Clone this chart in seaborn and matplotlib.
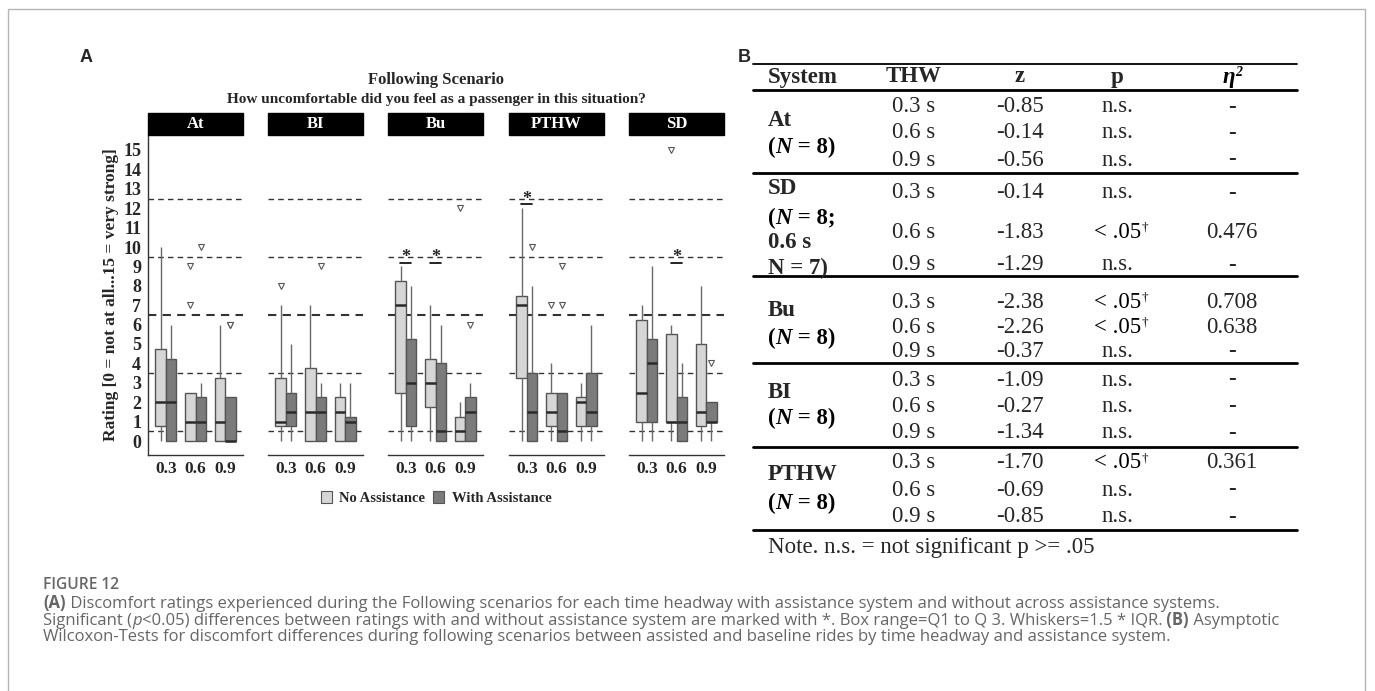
import numpy as np
import pandas as pd
import matplotlib
matplotlib.use("Agg")
import matplotlib.pyplot as plt
import seaborn as sns
from matplotlib.patches import Patch, Rectangle
from matplotlib.lines import Line2D
from matplotlib.offsetbox import TextArea, HPacker, AnnotationBbox

# ---------------- data (panel A: discomfort ratings, one list per THW 0.3/0.6/0.9) ----------------
systems = ["At", "BI", "Bu", "PTHW", "SD"]
thw_levels = ["0.3", "0.6", "0.9"]
conditions = ["No Assistance", "With Assistance"]

at_no = [[0, 0, 1, 2, 2, 4, 7, 10], [0, 0, 0, 1, 1, 1, 7, 9], [0, 0, 0, 1, 1, 3, 4, 6]]
at_with = [[0, 0, 0, 2, 2, 4, 5, 6], [0, 0, 0, 1, 1, 2, 3, 10], [0, 0, 0, 0, 0, 1, 6, 6]]
bi_no = [[0, 0, 1, 1, 1, 2, 7, 8], [0, 0, 0, 1, 2, 3, 6, 7], [0, 0, 0, 1, 2, 2, 3, 3]]
bi_with = [[0, 0, 1, 1, 2, 2, 4, 5], [0, 0, 0, 1, 2, 2, 3, 9], [0, 0, 0, 1, 1, 1, 2, 3]]
bu_no = [[0, 1, 3, 7, 7, 8, 9, 9], [0, 1, 2, 3, 3, 4, 5, 7], [0, 0, 0, 0, 1, 1, 2, 12]]
bu_with = [[0, 0, 1, 3, 3, 5, 6, 8], [0, 0, 0, 0, 1, 4, 4, 6], [0, 0, 0, 1, 2, 2, 3, 6]]
pthw_no = [[0, 1, 4, 7, 7, 7, 9, 12], [0, 0, 1, 1, 2, 2, 4, 7], [0, 0, 1, 2, 2, 2, 3, 3]]
pthw_with = [[0, 0, 0, 1, 2, 2, 8, 10], [0, 0, 0, 0, 1, 1, 7, 9], [0, 0, 1, 1, 2, 3, 5, 6]]
sd_no = [[0, 1, 1, 2, 3, 6, 7, 7], [0, 1, 1, 1, 5, 6, 15], [0, 0, 1, 1, 2, 5, 5, 8]]
sd_with = [[0, 1, 1, 4, 4, 5, 6, 9], [0, 0, 0, 1, 1, 2, 3, 4], [0, 1, 1, 1, 1, 2, 2, 4]]

category_bounds = [0.5, 3.5, 6.5, 9.5, 12.5]
# significant pairs: (system, THW, reference line the star sits on)
sig_system = ["Bu", "Bu", "PTHW", "SD"]
sig_thw = ["0.3", "0.6", "0.3", "0.6"]
sig_level = [9.5, 9.5, 12.5, 9.5]

# ---------------- data (panel B: Wilcoxon table) ----------------
tbl_systems = ["At", "SD", "Bu", "BI", "PTHW"]
tbl_thw = ["0.3 s", "0.6 s", "0.9 s"]
tbl_z = [["-0.85", "-0.14", "-0.56"], ["-0.14", "-1.83", "-1.29"], ["-2.38", "-2.26", "-0.37"],
         ["-1.09", "-0.27", "-1.34"], ["-1.70", "-0.69", "-0.85"]]
tbl_sig = [[False, False, False], [False, True, False], [True, True, False],
           [False, False, False], [True, False, False]]
tbl_eta = [["-", "-", "-"], ["-", "0.476", "-"], ["0.708", "0.638", "-"],
           ["-", "-", "-"], ["0.361", "-", "-"]]

# ---------------- build long data frame ----------------
raw = {"At": (at_no, at_with), "BI": (bi_no, bi_with), "Bu": (bu_no, bu_with),
       "PTHW": (pthw_no, pthw_with), "SD": (sd_no, sd_with)}
rows = []
for s in systems:
    for ci, cond in enumerate(conditions):
        for ti, thw in enumerate(thw_levels):
            for v in raw[s][ci][ti]:
                rows.append((s, thw, cond, v))
df = pd.DataFrame(rows, columns=["system", "thw", "condition", "rating"])

# ---------------- figure ----------------
sns.set_style("white")
plt.rcParams["font.family"] = ["Liberation Serif", "DejaVu Serif"]

W, H = 1375, 691
fig = plt.figure(figsize=(W / 100, H / 100), dpi=100)


def fx(px):
    return px / W


def fy(py):
    return 1 - py / H


SERIF = ["Liberation Serif", "DejaVu Serif"]
SANS = ["Open Sans", "DejaVu Sans"]

facet_left = [148, 268, 388, 509, 629]
facet_w = 95
ax_top, ax_bot = 135, 455
zero_px, unit_px = 441, 19.4
ylim = (-(ax_bot - zero_px) / unit_px, (zero_px - ax_top) / unit_px)

palette = {"No Assistance": "#d6d6d6", "With Assistance": "#7b7b7b"}

for i, s in enumerate(systems):
    ax = fig.add_axes([fx(facet_left[i]), fy(ax_bot), facet_w / W, (ax_bot - ax_top) / H])
    for b in category_bounds:
        ax.axhline(b, color="#333333", lw=1.5 if b == 6.5 else 1.0, ls=(0, (4, 3)), zorder=0)
    sns.boxplot(data=df[df.system == s], x="thw", y="rating", hue="condition",
                order=thw_levels, hue_order=conditions, palette=palette, saturation=1,
                width=0.7, gap=0, linewidth=1.0, linecolor="#555555", showcaps=False,
                whis=1.5,
                flierprops=dict(marker="v", markersize=4.5, markerfacecolor="white",
                                markeredgecolor="#555555", markeredgewidth=0.8),
                medianprops=dict(color="#2a2a2a", linewidth=1.8),
                whiskerprops=dict(color="#6a6a6a", linewidth=1.0),
                legend=False, ax=ax)
    ax.set_xlim(-0.6, 2.6)
    ax.set_ylim(*ylim)
    ax.set_xlabel("")
    for sp in ["top", "right"]:
        ax.spines[sp].set_visible(False)
    ax.spines["bottom"].set_color("#333333")
    ax.spines["bottom"].set_linewidth(1.0)
    ax.set_xticks(range(3))
    ax.set_xticklabels(thw_levels, fontsize=12.5, fontweight="bold", family=SERIF)
    ax.tick_params(axis="x", length=3, width=0.8, color="#333333", pad=1)
    if i == 0:
        ax.spines["left"].set_color("#333333")
        ax.spines["left"].set_linewidth(1.0)
        ax.set_yticks(range(16))
        ax.set_yticklabels([str(k) for k in range(16)], fontsize=13, fontweight="bold", family=SERIF)
        ax.tick_params(axis="y", length=3, width=0.8, color="#333333", pad=2)
        ax.set_ylabel("Rating [0 = not at all...15 = very strong]", fontsize=12.5,
                      fontweight="bold", family=SERIF, labelpad=3)
    else:
        ax.spines["left"].set_visible(False)
        ax.set_yticks([])
        ax.set_ylabel("")
    # significance marks
    for ss, st, lv in zip(sig_system, sig_thw, sig_level):
        if ss == s:
            xi = thw_levels.index(st)
            ax.plot([xi - 0.18, xi + 0.18], [lv - 0.3, lv - 0.3], color="black", lw=1.2)
            ax.text(xi, lv - 0.05, "*", ha="center", va="center", fontsize=13,
                    fontweight="bold", family=SERIF)
    # strip
    fig.patches.append(Rectangle((fx(facet_left[i]), fy(ax_top)), facet_w / W, 22 / H,
                                 transform=fig.transFigure, color="black"))
    fig.text(fx(facet_left[i] + facet_w / 2), fy(124), s, color="white", ha="center",
             va="center", fontsize=12, fontweight="bold", family=SERIF)

fig.text(fx(436), fy(80), "Following Scenario", ha="center", va="center",
         fontsize=12, fontweight="bold", family=SERIF)
fig.text(fx(436), fy(100), "How uncomfortable did you feel as a passenger in this situation?",
         ha="center", va="center", fontsize=11, fontweight="bold", family=SERIF)

handles = [Patch(facecolor=palette[c], edgecolor="#555555", linewidth=0.8) for c in conditions]
fig.legend(handles, conditions, loc="center", bbox_to_anchor=(fx(436), fy(498)), ncol=2,
           frameon=False, prop=dict(family=SERIF, weight="bold", size=10.5),
           handlelength=0.8, handleheight=0.9, handletextpad=0.5, columnspacing=0.5)

fig.text(fx(80), fy(57), "A", fontsize=13, fontweight="bold", family=["Liberation Sans"],
         ha="left", va="center")
fig.text(fx(738), fy(57), "B", fontsize=13, fontweight="bold", family=["Liberation Sans"],
         ha="left", va="center")


# ---------------- rich text helper ----------------
def rich(x, y, parts, align=(0, 0.5), sep=0, valign="baseline"):
    boxes = [TextArea(t, textprops=p) for t, p in parts]
    pack = HPacker(children=boxes, align=valign, pad=0, sep=sep)
    ab = AnnotationBbox(pack, (fx(x), fy(y)), xycoords="figure fraction",
                        box_alignment=align, frameon=False, pad=0)
    fig.add_artist(ab)


TS = 16.5
reg = dict(family=SERIF, size=TS, color="black")
bold = dict(family=SERIF, size=TS, weight="bold", color="black")
bolditalic = dict(family=SERIF, size=TS, weight="bold", style="italic", color="black")

# ---------------- table ----------------
tx0, tx1 = 753, 1297
col_sys, col_thw, col_z, col_p, col_eta = 768, 914, 1020, 1117, 1232
for yy, lw in [(64, 1.3), (90, 2.0), (173, 2.0), (276, 2.0), (363, 2.0), (447, 2.0), (530, 2.0)]:
    fig.add_artist(Line2D([fx(tx0), fx(tx1)], [fy(yy), fy(yy)], color="black", lw=lw))

hy = 77
fig.text(fx(col_sys), fy(hy), "System", ha="left", va="center", fontsize=TS, fontweight="bold", family=SERIF)
for cx, lab in [(col_thw, "THW"), (col_z, "z"), (col_p, "p")]:
    fig.text(fx(cx), fy(hy), lab, ha="center", va="center", fontsize=TS, fontweight="bold", family=SERIF)
rich(col_eta, hy, [("η", bolditalic), ("2", dict(bolditalic, size=10))], align=(0.5, 0.5), valign="top")

row_y = [[107, 133, 160], [193, 232, 265], [302, 327, 352], [380, 407, 433], [463, 490, 517]]
for gi in range(len(tbl_systems)):
    for ri in range(3):
        yy = row_y[gi][ri]
        fig.text(fx(col_thw), fy(yy), tbl_thw[ri], ha="center", va="center", fontsize=TS, family=SERIF)
        fig.text(fx(col_z), fy(yy), tbl_z[gi][ri], ha="center", va="center", fontsize=TS, family=SERIF)
        if tbl_sig[gi][ri]:
            rich(col_p + 4, yy, [("< .05", reg), ("†", dict(reg, size=9.5))], align=(0.5, 0.5), valign="top")
        else:
            fig.text(fx(col_p), fy(yy), "n.s.", ha="center", va="center", fontsize=TS, family=SERIF)
        fig.text(fx(col_eta), fy(yy), tbl_eta[gi][ri], ha="center", va="center", fontsize=TS,
                 family=SERIF, fontweight="bold" if tbl_eta[gi][ri] == "-" else "normal")

# system labels
nlab = [("(", bold), ("N", bolditalic), (" = 8)", bold)]
fig.text(fx(col_sys), fy(120), "At", ha="left", va="center", fontsize=TS, fontweight="bold", family=SERIF)
rich(col_sys, 147, nlab)
fig.text(fx(col_sys), fy(188), "SD", ha="left", va="center", fontsize=TS, fontweight="bold", family=SERIF)
rich(col_sys, 218, [("(", bold), ("N", bolditalic), (" = 8;", bold)])
fig.text(fx(col_sys), fy(242), "0.6 s", ha="left", va="center", fontsize=TS, fontweight="bold", family=SERIF)
fig.text(fx(col_sys), fy(268), "N = 7)", ha="left", va="center", fontsize=TS, fontweight="bold", family=SERIF)
fig.text(fx(col_sys), fy(310), "Bu", ha="left", va="center", fontsize=TS, fontweight="bold", family=SERIF)
rich(col_sys, 338, nlab)
fig.text(fx(col_sys), fy(393), "BI", ha="left", va="center", fontsize=TS, fontweight="bold", family=SERIF)
rich(col_sys, 418, nlab)
fig.text(fx(col_sys), fy(475), "PTHW", ha="left", va="center", fontsize=TS, fontweight="bold", family=SERIF)
rich(col_sys, 503, nlab)

fig.text(fx(col_sys), fy(547), "Note. n.s. = not significant p >= .05", ha="left", va="center",
         fontsize=TS, family=SERIF)

# ---------------- frame & caption ----------------
fig.patches.append(Rectangle((fx(8), -0.2), (1365 - 8) / W, fy(9) + 0.2, transform=fig.transFigure,
                             fill=False, edgecolor="#b5b5b5", lw=1.0))

CS = 12.0
cap = dict(family=SANS, size=CS, color="#666666")
capb = dict(cap, weight="bold")
capi = dict(cap, style="italic")
fig.text(fx(43), fy(585), "FIGURE 12", ha="left", va="center", fontsize=CS - 0.8, family=SANS,
         color="#666666", fontweight="semibold")
rich(43, 603, [("(A)", capb), (" Discomfort ratings experienced during the Following scenarios for each time headway "
                              "with assistance system and without across assistance systems.", cap)])
rich(43, 620, [("Significant (", cap), ("p", capi),
               ("<0.05) differences between ratings with and without assistance system are marked with *. "
                "Box range=Q1 to Q 3. Whiskers=1.5 * IQR.", cap), (" (B)", capb), (" Asymptotic", cap)])
rich(43, 637, [("Wilcoxon-Tests for discomfort differences during following scenarios between assisted and "
                "baseline rides by time headway and assistance system.", cap)])

fig.savefig("out.png", dpi=100)
